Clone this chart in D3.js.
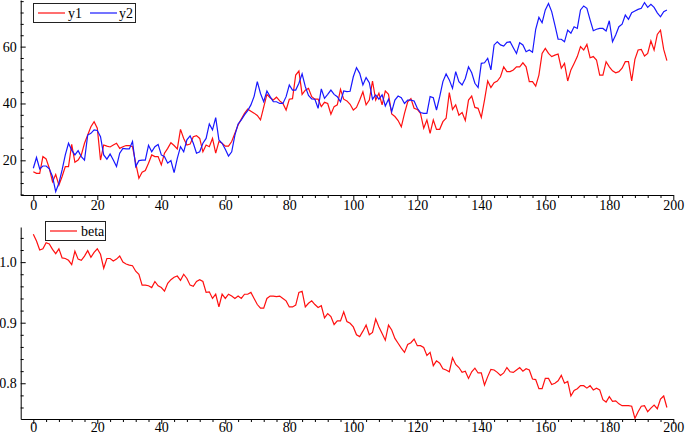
<!DOCTYPE html>
<html>
<head>
<meta charset="utf-8">
<script src="https://cdn.jsdelivr.net/npm/d3@7"></script>
<style>
  body { margin: 0; background: #fff; }
  svg { display: block; }
  svg text { font-family: "Liberation Serif", "Times New Roman", serif; }
</style>
</head>
<body>
<div id="chart"></div>
<script>
const width = 685;
const height = 439;

// Series, x = 0 .. 198
const y1 = [
  16,15.4,15.4,21.3,20.5,17.2,12.5,15,11.3,14.3,
  17.8,17.8,25.6,19.3,20.1,21.9,26,28.9,31.8,33.6,
  31.3,20.1,25.4,25,24.7,25.4,26,24.2,24.8,25.2,
  25.2,24.8,19,13.7,15.8,16.4,19,21.9,21.3,21.3,
  18.4,22.5,24.2,26.2,25.2,24,30.9,27.7,25.4,25.7,
  28.3,28.7,27.7,23,25.4,24.8,27.7,22.5,26.6,26,
  25,25,26.6,29.5,32.4,34.5,36.5,38,37.3,36.6,
  35.8,34.2,38.7,43.2,42,41.2,42.2,40.9,40,37.7,
  41.5,41.7,50,51.4,43.2,44.7,45.3,42.4,41.5,41.5,
  38.9,40.4,40,36.2,38.9,39.5,45,41.5,40.9,39.7,
  37.7,38.6,41.2,44.1,39.5,41.2,47.9,41.2,43.6,39.5,
  44.4,43.2,36.3,35.4,34,31.8,36.5,40.6,41.7,38.3,
  37.9,36.5,31.3,34.2,29.5,34.2,30.9,30.9,33.6,34.8,
  43.8,37.9,39.5,35.9,36.8,34,41.2,42.6,38.6,38.3,
  35.1,41.2,47.9,45.6,47.3,47.9,49.4,52.9,51.2,51.2,
  51.8,52.9,52.9,54.3,52.9,47.7,47.7,46.1,50,57.6,
  59.4,57.6,56.5,57,57.4,52.4,54.1,47.9,51.8,54.1,
  56.5,60,58.8,60.8,56.1,56.5,55.3,50,50,54.7,
  52.9,51.5,50.8,51.2,52.4,54.7,54.7,47.9,55.5,58.8,
  59,56.7,57.6,62,58.8,64.3,65.8,59,55.1
];

const y2 = [
  17.2,21,17,18,18,17,14.3,9,12,16.6,
  21.9,26,23.6,21.9,23.4,21.3,20.1,28.9,29.5,30.7,
  30.5,28.3,21.9,20.4,22.2,20.1,17.8,22.5,24.2,24,
  24,26.6,17.8,19.9,20.1,20.1,25.3,23,24.8,25.6,
  21.9,21.3,19,19.9,15.7,20.7,24.8,23,27.2,28.6,
  26,22.5,23,26,27.7,32.8,30.7,35,27.2,26,
  23.9,21.5,23,28.9,32.8,34.2,36,37.5,39.5,42.5,
  47.7,43.5,40.6,44.4,42.4,40.6,40.6,40,40,42.4,
  46.5,44.7,44.7,47.1,50.4,45.9,42.8,41.6,41.5,38.3,
  45.1,41.8,43.2,44.7,43.2,42.4,40.6,44.4,44.2,44.3,
  49.4,52.6,50.6,46.5,49.1,47.3,41.5,43,41.5,43,
  39.1,41.5,37.1,41.2,42.6,42,40,41.2,41.2,40.9,
  38.3,36.8,36.5,36.5,42.4,42,37.7,42.4,47.7,50.4,
  48.3,45.3,51.2,47.7,46.5,48.8,52.9,50.8,47.1,45.6,
  54.1,54.3,55.9,51.8,60.6,61.7,60.6,60.2,61.5,61.7,
  59.6,57.6,61.4,60.6,58.2,58.8,58,66.1,70.3,68.4,
  72.9,75.2,72.3,67.6,62.6,62.6,61.7,65.8,64.7,67,
  66.4,72.9,74.3,73.5,69.4,65.6,66.1,66.4,66.4,65.5,
  69.1,61.7,64.1,67,67.9,71.1,69.6,71.9,72.5,73.1,
  73.5,75.5,73.8,74.9,73.8,71.9,70.5,72.3,72.9
];

const beta = [
  1.046,1.035,1.020,1.022,1.032,1.030,1.021,1.014,1.022,1.007,
  1.006,1.003,0.996,1.018,1.005,1.003,1.010,1.019,1.008,1.016,
  1.022,1.013,0.990,1.006,1.006,1.002,1.005,1.010,1.000,0.997,
  0.995,0.994,0.985,0.980,0.962,0.962,0.961,0.958,0.968,0.961,
  0.958,0.952,0.965,0.971,0.975,0.977,0.970,0.980,0.973,0.962,
  0.960,0.968,0.971,0.968,0.950,0.951,0.940,0.947,0.926,0.947,
  0.940,0.947,0.944,0.940,0.944,0.940,0.947,0.947,0.950,0.940,
  0.930,0.924,0.924,0.940,0.944,0.944,0.943,0.944,0.940,0.936,
  0.926,0.926,0.929,0.950,0.952,0.926,0.932,0.936,0.930,0.925,
  0.928,0.908,0.915,0.910,0.897,0.903,0.903,0.918,0.902,0.899,
  0.893,0.880,0.877,0.886,0.896,0.880,0.884,0.906,0.893,0.882,
  0.871,0.896,0.888,0.874,0.866,0.858,0.851,0.864,0.867,0.873,
  0.862,0.862,0.859,0.846,0.851,0.829,0.837,0.833,0.824,0.822,
  0.819,0.842,0.831,0.826,0.818,0.820,0.808,0.819,0.825,0.817,
  0.817,0.797,0.811,0.823,0.822,0.818,0.813,0.817,0.826,0.819,
  0.818,0.822,0.826,0.820,0.824,0.822,0.807,0.806,0.791,0.791,
  0.808,0.808,0.798,0.800,0.804,0.813,0.800,0.803,0.779,0.788,
  0.791,0.796,0.796,0.792,0.796,0.789,0.792,0.789,0.773,0.769,
  0.778,0.770,0.771,0.766,0.763,0.763,0.763,0.762,0.742,0.753,
  0.762,0.763,0.753,0.759,0.764,0.758,0.774,0.779,0.760
];

const xTicks = [0, 20, 40, 60, 80, 100, 120, 140, 160, 180, 200];
const topTicks = [20, 40, 60];
const betaTicks = [0.8, 0.9, 1.0];

const red = "#ff1010";
const blue = "#1818ff";

const svg = d3.select("#chart").append("svg").attr("width", width).attr("height", height);

const x = d3.scaleLinear().domain([-3.94, 200]).range([20.7, 673.3]);
const yTop = d3.scaleLinear().domain([7.8, 76.4]).range([195, 0]);
const yBot = d3.scaleLinear().domain([0.741, 1.058]).range([419, 227]);

function drawAxes(yScale, yMajor, yMinorStep, fmt, labelOffset) {
  const y0 = yScale.range()[0];
  const [d0, d1] = yScale.domain();
  const yMinor = d3.range(Math.ceil(d0 / yMinorStep) * yMinorStep, d1, yMinorStep)
    .filter(v => !yMajor.some(m => Math.abs(m - v) < yMinorStep / 10));
  const xMinor = d3.range(0, 201, 4).filter(v => v % 20 !== 0);

  // x minor ticks
  svg.append("g").attr("transform", `translate(0,${y0})`)
    .call(d3.axisBottom(x).tickValues(xMinor).tickSize(3).tickSizeOuter(0).tickFormat(""))
    .call(g => g.select(".domain").remove());
  // x major ticks + labels
  const gx = svg.append("g").attr("transform", `translate(0,${y0})`)
    .call(d3.axisBottom(x).tickValues(xTicks).tickSize(5).tickSizeOuter(0).tickFormat(d3.format("d")))
    .attr("font-family", null).attr("font-size", 14);
  gx.selectAll("text").attr("y", labelOffset).attr("dy", 0).attr("fill", "#000");

  // y minor ticks (inward)
  const xl = x.range()[0];
  svg.append("g").attr("transform", `translate(${xl},0)`)
    .call(d3.axisRight(yScale).tickValues(yMinor).tickSize(3).tickSizeOuter(0).tickFormat(""))
    .call(g => g.select(".domain").remove());
  const gy = svg.append("g").attr("transform", `translate(${xl},0)`)
    .call(d3.axisRight(yScale).tickValues(yMajor).tickSize(5).tickSizeOuter(0).tickFormat(fmt))
    .attr("font-family", null).attr("font-size", 14);
  gy.selectAll("text").attr("x", -4).attr("dy", "0.32em").attr("text-anchor", "end").attr("fill", "#000");
}

drawAxes(yTop, topTicks, 4, d3.format("d"), 15);
drawAxes(yBot, betaTicks, 0.02, d3.format(".1f"), 13);

const idx = d3.range(y1.length);
const lineTop = (arr) => d3.line().x(i => x(i)).y(i => yTop(arr[i]));

svg.append("path").attr("d", lineTop(y1)(idx)).attr("fill", "none").attr("stroke", red).attr("stroke-width", 1.2);
svg.append("path").attr("d", lineTop(y2)(idx)).attr("fill", "none").attr("stroke", blue).attr("stroke-width", 1.2);

const lineBeta = d3.line().x((d, i) => x(i)).y(d => yBot(d));
svg.append("path").attr("d", lineBeta(beta)).attr("fill", "none").attr("stroke", red).attr("stroke-width", 1.2);

// Legends
function legend(x0, y0, w, h, items) {
  const g = svg.append("g");
  g.append("rect").attr("x", x0 + 0.5).attr("y", y0 + 0.5).attr("width", w).attr("height", h)
    .attr("fill", "#fff").attr("stroke", "#222").attr("stroke-width", 1);
  items.forEach(it => {
    g.append("line").attr("x1", it.lx).attr("x2", it.lx + 27).attr("y1", y0 + h / 2 + 0.5).attr("y2", y0 + h / 2 + 0.5)
      .attr("stroke", it.color).attr("stroke-width", 1.2);
    g.append("text").attr("x", it.tx).attr("y", y0 + h / 2 + 5).attr("font-size", 14).text(it.label);
  });
}

legend(33, 3, 102, 19, [
  {label: "y1", color: red, lx: 38, tx: 68},
  {label: "y2", color: blue, lx: 90, tx: 119}
]);
legend(45, 221, 60, 19, [
  {label: "beta", color: red, lx: 50, tx: 81}
]);
</script>
</body>
</html>
